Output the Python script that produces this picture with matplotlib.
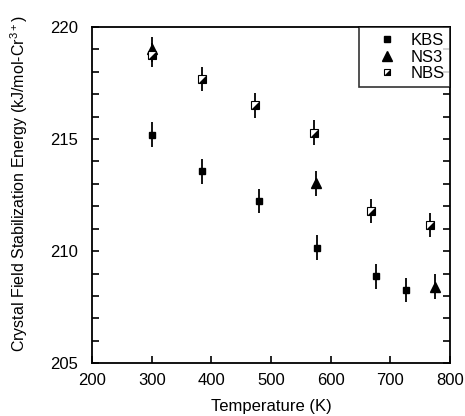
import numpy as np
import matplotlib
matplotlib.use('Agg')
import matplotlib.pyplot as plt
from matplotlib.legend_handler import HandlerTuple

plt.rcParams['font.family'] = ['Liberation Sans', 'DejaVu Sans']
plt.rcParams['mathtext.default'] = 'regular'

# 数据
kbs_t = [301, 384, 480, 577, 676, 726]
kbs_e = [215.2, 213.56, 212.23, 210.15, 208.88, 208.26]
ns3_t = [300, 575, 775]
ns3_e = [219.0, 213.02, 208.41]
nbs_t = [300, 384, 473, 572, 667, 766]
nbs_e = [218.75, 217.68, 216.5, 215.28, 211.79, 211.16]
err = 0.55

x_ticks = [200, 300, 400, 500, 600, 700, 800]
y_ticks = [205, 210, 215, 220]

fig = plt.figure(figsize=(4.65, 4.16), dpi=100)
ax = fig.add_axes([0.198, 0.127, 0.770, 0.808])

eb = dict(fmt='none', ecolor='black', elinewidth=1.3, capsize=0)
ax.errorbar(kbs_t, kbs_e, yerr=err, **eb)
ax.errorbar(ns3_t, ns3_e, yerr=err, **eb)
ax.errorbar(nbs_t, nbs_e, yerr=err, **eb)

h1, = ax.plot(kbs_t, kbs_e, 's', color='black', markersize=4.5, linestyle='none')
h2, = ax.plot(ns3_t, ns3_e, '^', color='black', markersize=7.5, linestyle='none')
# 半填充方块: 左上白, 右下黑
h3a, = ax.plot(nbs_t, nbs_e, 's', markerfacecolor='white', markeredgecolor='black',
               markersize=5.5, markeredgewidth=0.8, linestyle='none')
tri = [(-1, -1), (1, -1), (1, 1), (-1, -1)]
h3b, = ax.plot(nbs_t, nbs_e, marker=tri, color='black', markersize=5.5,
               markeredgewidth=0, linestyle='none')

ax.set_xlim(200, 800)
ax.set_ylim(205, 220)
ax.set_xticks(x_ticks)
ax.set_yticks(y_ticks)
ax.set_yticks(np.arange(205, 221, 1), minor=True)
ax.tick_params(which='both', direction='in', right=True, labelsize=12)
ax.tick_params(which='major', length=5, width=1.2)
ax.tick_params(which='minor', length=5, width=1.2)
ax.tick_params(axis='x', pad=7)
ax.tick_params(axis='y', pad=10)
for s in ax.spines.values():
    s.set_linewidth(1.3)

ax.set_xlabel('Temperature (K)', fontsize=12, labelpad=8)
ax.set_ylabel('Crystal Field Stabilization Energy (kJ/mol-Cr$^{3+}$)', fontsize=11.5)
ax.yaxis.set_label_coords(-0.173, 0.535)

leg = ax.legend([h1, h2, (h3a, h3b)], ['KBS', 'NS3', 'NBS'],
                handler_map={tuple: HandlerTuple(ndivide=1)},
                loc='upper right', fontsize=12, frameon=True, fancybox=False,
                borderaxespad=0, handlelength=2.6, handletextpad=0.1,
                labelspacing=0.1, borderpad=0.35, markerfirst=True,
                markerscale=0.9)
leg.get_frame().set_edgecolor('black')
leg.get_frame().set_linewidth(1.2)

fig.savefig('out.png', dpi=100)
